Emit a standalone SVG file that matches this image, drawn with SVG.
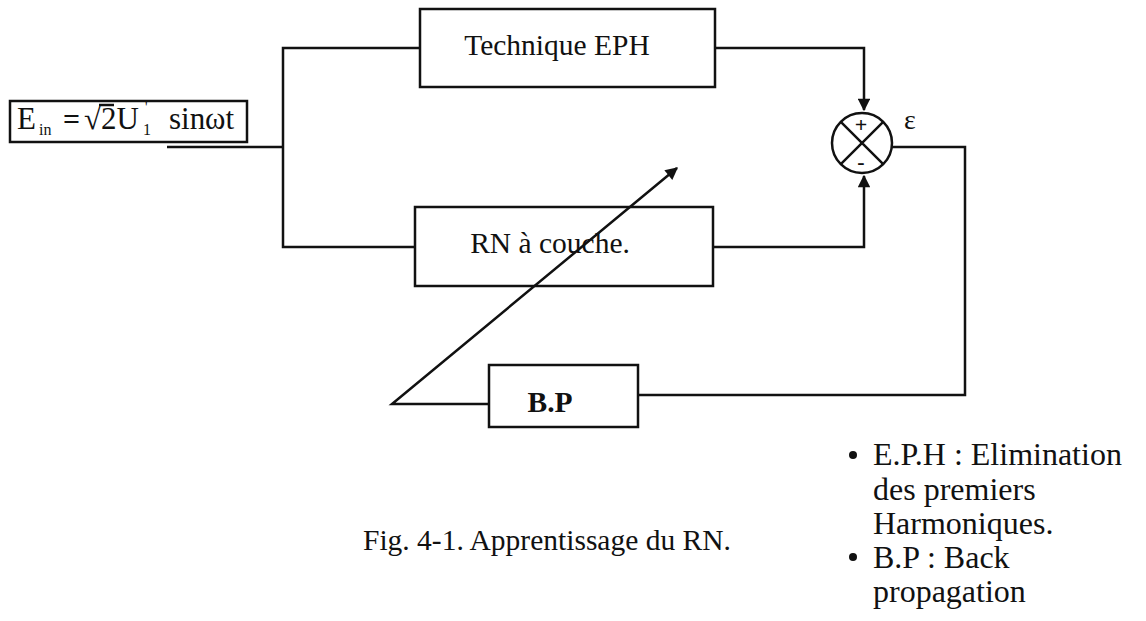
<svg xmlns="http://www.w3.org/2000/svg" width="1146" height="621" viewBox="0 0 1146 621">
<defs>
<style>
.ln{fill:none;stroke:#111;stroke-width:2.5}
.bx{fill:none;stroke:#111;stroke-width:2.5}
.t{font-family:"Liberation Serif","Times New Roman",serif;fill:#111}
</style>
<marker id="ah" viewBox="0 0 10 10" refX="9" refY="5" markerWidth="5.5" markerHeight="5" orient="auto" markerUnits="strokeWidth">
<path d="M0,0 L10,5 L0,10 z" fill="#111"/>
</marker>
</defs>
<rect width="1146" height="621" fill="#fff"/>
<g id="input">
<rect class="bx" x="10" y="101" width="237" height="41"/>
<text class="t" x="17" y="129" font-size="31">E</text>
<text class="t" x="39" y="135" font-size="16">in</text>
<text class="t" x="63" y="129" font-size="30" font-weight="bold">=</text>
<text class="t" x="84" y="129" font-size="31">√2U</text>
<path class="ln" d="M99,105 H114" stroke-width="1.5"/>
<text class="t" x="143" y="135" font-size="16">1</text>
<text class="t" x="145" y="112" font-size="14">'</text>
<text class="t" x="169" y="129" font-size="31">sin</text>
<text class="t" x="205" y="129" font-size="31">ωt</text>
</g>
<g id="eph">
<rect class="bx" x="420" y="9" width="295" height="78"/>
<text class="t" x="557" y="55" font-size="29.5" text-anchor="middle">Technique EPH</text>
</g>
<g id="rn">
<rect class="bx" x="415" y="207" width="298" height="79"/>
<text class="t" x="550" y="253" font-size="29.5" text-anchor="middle">RN à couche.</text>
</g>
<g id="bp">
<rect class="bx" x="489" y="365" width="149" height="62"/>
<text class="t" x="550" y="412" font-size="29.5" font-weight="bold" text-anchor="middle">B.P</text>
</g>
<g id="sum">
<circle class="bx" cx="862" cy="143" r="30"/>
<path class="ln" d="M840.8,121.8 L883.2,164.2 M883.2,121.8 L840.8,164.2"/>
<text class="t" x="861" y="132" font-size="22" font-weight="bold" text-anchor="middle">+</text>
<text class="t" x="861" y="169" font-size="22" font-weight="bold" text-anchor="middle">-</text>
</g>
<g id="connectors">
<path class="ln" d="M167,147 H283"/>
<path class="ln" d="M420,48 H283 V247 H415"/>
<path class="ln" d="M715,48 H864 V110" marker-end="url(#ah)"/>
<path class="ln" d="M713,247 H864 V176" marker-end="url(#ah)"/>
<path class="ln" d="M892,147 H965 V395 H638"/>
<path class="ln" d="M489,404 H392 L677,168" marker-end="url(#ah)"/>
</g>
<text class="t" x="904" y="129" font-size="28">ε</text>
<text class="t" x="363" y="550" font-size="29.5">Fig. 4-1. Apprentissage du RN.</text>
<g id="legend">
<circle cx="853" cy="455" r="4" fill="#111"/>
<circle cx="853" cy="557" r="4" fill="#111"/>
<text class="t" x="873" y="465" font-size="32">E.P.H : Elimination</text>
<text class="t" x="873" y="500" font-size="32">des premiers</text>
<text class="t" x="873" y="534" font-size="32">Harmoniques.</text>
<text class="t" x="873" y="568" font-size="32">B.P : Back</text>
<text class="t" x="873" y="602" font-size="32">propagation</text>
</g>
</svg>
